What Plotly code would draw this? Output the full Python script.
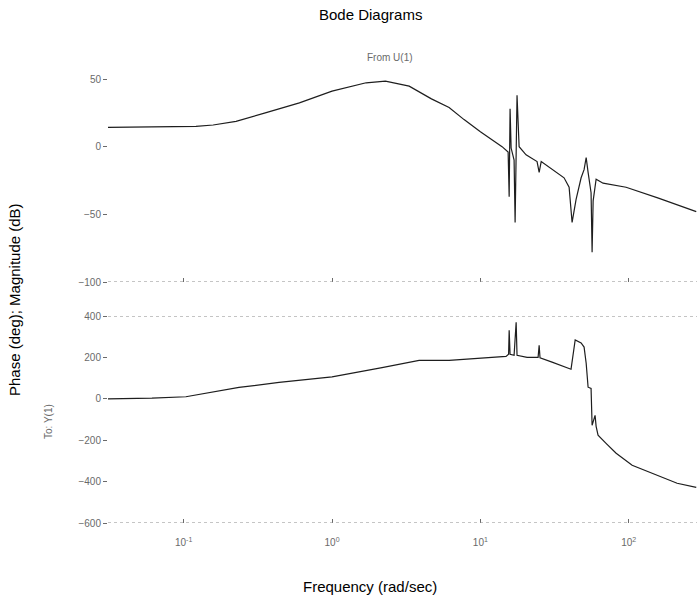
import plotly.graph_objects as go

# ---- data ----
w_mag = [0.0304, 0.0611, 0.121, 0.158, 0.2254, 0.355, 0.4395, 0.6026, 1.0, 1.698, 2.291,
         3.311, 4.677, 6.152, 7.762, 10.0, 14.0, 15.38, 15.63, 15.85, 16.11,
         16.87, 17.14, 17.66, 18.24, 20.32, 24.10, 24.89, 25.70, 29.04, 36.64,
         39.63, 41.50, 44.16, 47.75, 50.0, 51.64, 53.21, 55.72, 56.62, 57.54,
         60.26, 67.14, 95.94, 158.5, 285.1]
mag_db = [14.3, 14.5, 15, 16, 18.7, 25, 27.9, 32.4, 41, 47.2, 48.4,
          44.7, 35.3, 28.9, 20, 11, 0, -4, -37, 28, -1,
          -10, -56, 38, 0, -6, -11, -19, -11, -15, -23,
          -30, -56, -39, -23, -17, -8, -19, -34, -78, -40,
          -24, -27, -30, -38, -48]

w_ph = [0.0304, 0.0611, 0.1035, 0.236, 0.4395, 1.0, 2.173, 3.864, 6.152, 10.26,
        14.89, 15.49, 15.63, 15.85, 16.87, 17.42, 17.66, 20.65, 24.49, 24.89,
        25.23, 30.41, 40.83, 43.55, 47.75, 50.0, 51.64, 53.21, 55.72, 56.62,
        59.29, 60.26, 62.09, 70.31, 82.22, 105.4, 152.8, 211.8, 285.1]
phase_deg = [0, 3, 10, 55, 79, 106, 151, 186, 186, 195,
             205, 215, 331, 215, 210, 370, 210, 200, 200, 259,
             198, 177, 143, 284, 270, 250, 172, 56, 50, -128,
             -80, -133, -176, -215, -263, -321, -369, -408, -428]

x_tickvals = [0.1, 1, 10, 100]
x_ticktext = ["10<sup>-1</sup>", "10<sup>0</sup>", "10<sup>1</sup>", "10<sup>2</sup>"]
mag_ticks = [-100, -50, 0, 50]
ph_ticks = [-600, -400, -200, 0, 200, 400]

W, H = 697, 596
L, R, T, B = 108, 0, 79, 73
plot_h = H - T - B

def py(px_from_top):
    return (H - B - px_from_top) / plot_h

def px(px_from_left):
    return (px_from_left - L) / (W - L - R)

line_col = "#1e1e1e"
gray = "#6a6a6a"
tick_font = dict(family="Liberation Sans, Arial, sans-serif", size=10, color=gray)

fig = go.Figure()
fig.add_trace(go.Scatter(x=w_mag, y=mag_db, mode="lines",
                         line=dict(color=line_col, width=1.2),
                         xaxis="x", yaxis="y", showlegend=False))
fig.add_trace(go.Scatter(x=w_ph, y=phase_deg, mode="lines",
                         line=dict(color=line_col, width=1.2),
                         xaxis="x2", yaxis="y2", showlegend=False))

xrange = [-1.51, 2.46]
common_x = dict(type="log", range=xrange, showgrid=False, zeroline=False,
                showline=False, tickvals=x_tickvals, ticks="inside",
                ticklen=4, tickcolor=gray, tickfont=tick_font)

fig.update_layout(
    width=W, height=H,
    margin=dict(l=L, r=R, t=T, b=B),
    paper_bgcolor="white", plot_bgcolor="white",
    font=dict(family="Liberation Sans, Arial, sans-serif", color="black"),
    xaxis=dict(common_x, domain=[0, 1], anchor="y", showticklabels=False),
    yaxis=dict(domain=[py(282), 1], range=[-100, 50], tickvals=mag_ticks,
               showgrid=False, zeroline=False, showline=False,
               ticks="outside", ticklen=4, tickcolor=gray, tickfont=tick_font),
    xaxis2=dict(common_x, domain=[0, 1], anchor="y2", ticktext=x_ticktext,
                ticklabelstandoff=12),
    yaxis2=dict(domain=[0, py(316)], range=[-600, 400], tickvals=ph_ticks,
                showgrid=False, zeroline=False, showline=False,
                ticks="outside", ticklen=4, tickcolor=gray, tickfont=tick_font),
    shapes=[
        dict(type="line", xref="x domain", yref="y", x0=0, x1=1, y0=-100, y1=-100,
             line=dict(color="#8a8a8a", width=1, dash="dot")),
        dict(type="line", xref="x2 domain", yref="y2", x0=0, x1=1, y0=400, y1=400,
             line=dict(color="#8a8a8a", width=1, dash="dot")),
        dict(type="line", xref="x2 domain", yref="y2", x0=0, x1=1, y0=-600, y1=-600,
             line=dict(color="#8a8a8a", width=1, dash="dot")),
    ],
    annotations=[
        dict(text="Bode Diagrams", xref="paper", yref="paper", x=px(370), y=py(14),
             showarrow=False, xanchor="center", yanchor="middle",
             font=dict(size=15, color="black")),
        dict(text="From U(1)", xref="paper", yref="paper", x=px(390), y=py(57),
             showarrow=False, xanchor="center", yanchor="middle",
             font=dict(size=10, color=gray)),
        dict(text="Frequency (rad/sec)", xref="paper", yref="paper", x=px(370), y=py(586),
             showarrow=False, xanchor="center", yanchor="middle",
             font=dict(size=15, color="black")),
        dict(text="Phase (deg); Magnitude (dB)", xref="paper", yref="paper",
             x=px(14), y=py(300), textangle=-90,
             showarrow=False, xanchor="center", yanchor="middle",
             font=dict(size=15, color="black")),
        dict(text="To: Y(1)", xref="paper", yref="paper",
             x=px(48), y=py(422), textangle=-90,
             showarrow=False, xanchor="center", yanchor="middle",
             font=dict(size=10, color=gray)),
    ],
)

fig.write_html("out.html")
